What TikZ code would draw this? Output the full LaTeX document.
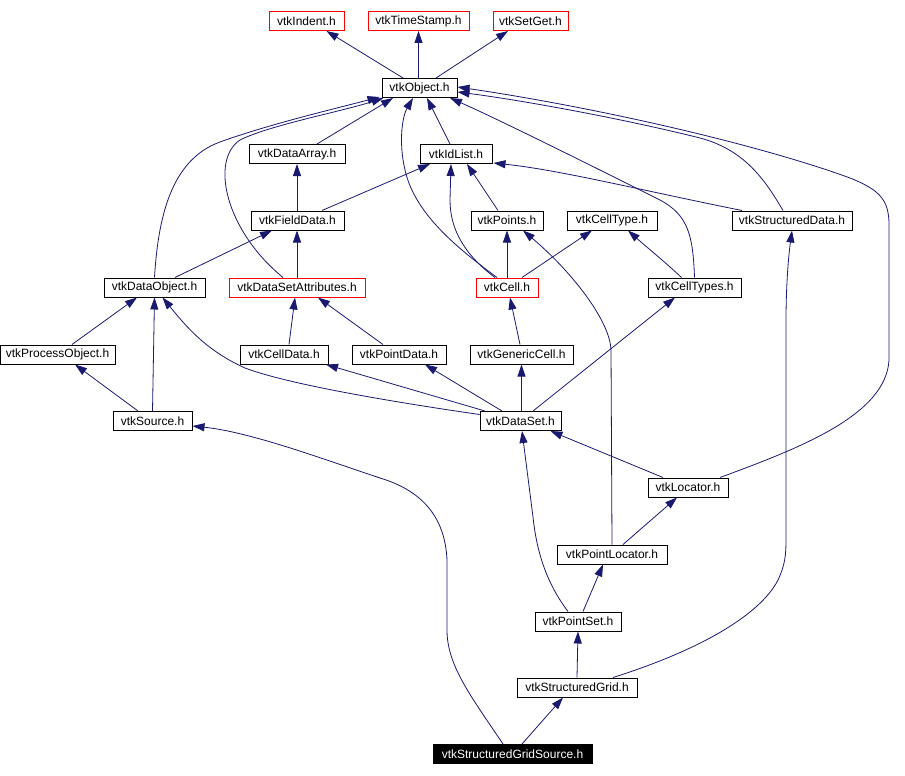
\documentclass[tikz,border=0pt]{standalone}
\usepackage{fontspec}
\setmainfont{Liberation Sans}
\usetikzlibrary{arrows.meta}
\definecolor{edgec}{RGB}{25,25,112}
\begin{document}
\begin{tikzpicture}[x=1pt,y=-1pt,
  box/.style={draw=black,line width=1pt,rectangle,inner sep=0pt,minimum height=19pt,fill=white,
    font=\fontsize{12}{13}\selectfont},
  redbox/.style={box,draw=red},
  hibox/.style={box,fill=black,text=white},
  edge/.style={draw=edgec,line width=0.8pt,-{Triangle[length=12pt,width=8pt]}}]
\useasboundingbox (0,0) rectangle (905,776);
% nodes
\node[redbox,minimum width=75pt]  (indent)    at (306.5,21) {vtkIndent.h};
\node[redbox,minimum width=101pt] (timestamp) at (418.5,21) {vtkTimeStamp.h};
\node[redbox,minimum width=75pt]  (setget)    at (530.5,21) {vtkSetGet.h};
\node[box,minimum width=75pt]     (object)    at (419.5,88) {vtkObject.h};
\node[box,minimum width=96pt]     (dataarray) at (297,154) {vtkDataArray.h};
\node[box,minimum width=72pt]     (idlist)    at (456,154) {vtkIdList.h};
\node[box,minimum width=93pt]     (fielddata) at (297.5,220.5) {vtkFieldData.h};
\node[box,minimum width=72pt]     (points)    at (507,220.5) {vtkPoints.h};
\node[box,minimum width=90pt]     (celltype)  at (612,220.5) {vtkCellType.h};
\node[box,minimum width=120pt]    (structureddata) at (792,220.5) {vtkStructuredData.h};
\node[box,minimum width=101pt]    (dataobject) at (154.5,287.5) {vtkDataObject.h};
\node[redbox,minimum width=136pt] (dsattr)    at (297,287.5) {vtkDataSetAttributes.h};
\node[redbox,minimum width=62pt]  (cell)      at (507,287.5) {vtkCell.h};
\node[box,minimum width=93pt]     (celltypes) at (694.5,287.5) {vtkCellTypes.h};
\node[box,minimum width=115pt]    (processobject) at (57.5,354.5) {vtkProcessObject.h};
\node[box,minimum width=88pt]     (celldata)  at (284,354.5) {vtkCellData.h};
\node[box,minimum width=94pt]     (pointdata) at (399,354.5) {vtkPointData.h};
\node[box,minimum width=103pt]    (genericcell) at (521.5,354.5) {vtkGenericCell.h};
\node[box,minimum width=79pt]     (source)    at (152.5,421) {vtkSource.h};
\node[box,minimum width=81pt]     (dataset)   at (520.5,421) {vtkDataSet.h};
\node[box,minimum width=80pt]     (locator)   at (688,487.5) {vtkLocator.h};
\node[box,minimum width=110pt]    (pointlocator) at (612,554.5) {vtkPointLocator.h};
\node[box,minimum width=86pt]     (pointset)  at (578,621.5) {vtkPointSet.h};
\node[box,minimum width=120pt]    (sgrid)     at (577,687.5) {vtkStructuredGrid.h};
\node[hibox,minimum width=159pt]  (sgsource)  at (512.5,754) {vtkStructuredGridSource.h};
% edges
\draw[edge] ([xshift=-16.5pt]object.north) -- ([xshift=20pt]indent.south);
\draw[edge] ([xshift=-1pt]object.north) -- (timestamp.south);
\draw[edge] ([xshift=16.5pt]object.north) -- ([xshift=-22.5pt]setget.south);
\draw[edge] ([xshift=20pt]dataarray.north) -- ([xshift=-26.5pt]object.south);
\draw[edge] ([xshift=-6pt]idlist.north) -- ([xshift=7.5pt]object.south);
\draw[edge] (dataobject.north) .. controls (158,220) and (170,160) .. (220,142)
  .. controls (270,124) and (330,110) .. ([xshift=-2pt,yshift=1pt]object.south west);
\draw[edge] ([xshift=-14pt]dsattr.north) .. controls (225,230) and (210,160) .. (240,140)
  .. controls (270,125) and (340,112) .. ([xshift=2pt]object.south west);
\draw[edge] ([xshift=-10pt]cell.north) .. controls (460,250) and (415,215) .. (405,170)
  .. controls (398,140) and (403,115) .. ([xshift=-6.5pt]object.south);
\draw[edge] ([xshift=-12pt]cell.north) .. controls (465,255) and (450,230) .. (450,200)
  -- ([xshift=-5pt]idlist.south);
\draw[edge] (celltypes.north) .. controls (693,235) and (688,215) .. (660,200)
  .. controls (600,170) and (500,120) .. ([xshift=30.5pt]object.south);
\draw[edge] ([xshift=-9pt]structureddata.north) .. controls (765,180) and (745,150) .. (700,138)
  .. controls (620,118) and (520,100) .. ([yshift=-4pt]object.east);
\draw[edge] ([xshift=32pt]locator.north) .. controls (800,448) and (886,415) .. (889,360)
  -- (889,225) .. controls (889,200) and (880,190) .. (850,178)
  .. controls (760,145) and (600,108) .. ([yshift=1pt]object.east);
\draw[edge] ([xshift=-0.5pt]fielddata.north) -- (dataarray.south);
\draw[edge] ([xshift=24.5pt]fielddata.north) -- ([xshift=-26pt]idlist.south);
\draw[edge] ([xshift=-9pt]points.north) -- ([xshift=11pt]idlist.south);
\draw[edge] ([xshift=-50pt]structureddata.north) .. controls (640,190) and (560,170) .. ([xshift=1pt,yshift=1pt]idlist.south east);
\draw[edge] ([xshift=20.5pt]dataobject.north) -- ([xshift=-25.5pt]fielddata.south);
\draw[edge] (dsattr.north) -- ([xshift=-0.5pt]fielddata.south);
\draw[edge] (cell.north) -- (points.south);
\draw[edge] ([xshift=15pt]cell.north) -- ([xshift=-20pt]celltype.south);
\draw[edge] ([xshift=-13pt]celltypes.north) .. controls (665,262) and (650,250) .. ([xshift=16pt]celltype.south);
\draw[edge] (pointlocator.north) -- (611,350) .. controls (610,320) and (570,270) .. ([xshift=16pt]points.south);
\draw[edge] ([xshift=36pt]sgrid.north) .. controls (700,650) and (760,615) .. (778,580)
  .. controls (785,565) and (786,555) .. (786,540) -- (786,320)
  .. controls (786,290) and (788,260) .. (structureddata.south);
\draw[edge] ([xshift=14.5pt]processobject.north) -- ([xshift=-17.5pt]dataobject.south);
\draw[edge] (source.north) -- (dataobject.south);
\draw[edge] ([yshift=-3.5pt]dataset.north west) .. controls (400,403) and (290,385) .. (245,368)
  .. controls (205,350) and (185,325) .. ([xshift=8pt]dataobject.south);
\draw[edge] ([xshift=5pt]celldata.north) -- ([xshift=-2pt]dsattr.south);
\draw[edge] ([xshift=-16pt]pointdata.north) -- ([xshift=21pt]dsattr.south);
\draw[edge] ([xshift=-1.5pt]genericcell.north) -- ([xshift=3pt]cell.south);
\draw[edge] ([xshift=12.5pt]dataset.north) -- ([xshift=-19.5pt]celltypes.south);
\draw[edge] ([xshift=-14.5pt]source.north) -- ([xshift=17.5pt]processobject.south);
\draw[edge] ([xshift=-35.5pt]dataset.north) -- ([xshift=42pt]celldata.south);
\draw[edge] ([xshift=-18.5pt]dataset.north) -- ([xshift=26pt]pointdata.south);
\draw[edge] ([xshift=1pt]dataset.north) -- (genericcell.south);
\draw[edge] ([xshift=-9.5pt]sgsource.north) .. controls (470,695) and (447,665) .. (447,630)
  -- (447,560) .. controls (445,515) and (420,490) .. (380,478)
  .. controls (320,458) and (250,432) .. ([yshift=-5pt]source.east);
\draw[edge] ([xshift=-25pt]locator.north) -- ([xshift=30pt]dataset.south);
\draw[edge] ([xshift=-10pt]pointset.north) .. controls (548,585) and (537,555) .. (533,517)
  -- ([xshift=1.5pt]dataset.south);
\draw[edge] ([xshift=11pt]pointlocator.north) -- ([xshift=-11pt]locator.south);
\draw[edge] ([xshift=5pt]pointset.north) -- ([xshift=-9pt]pointlocator.south);
\draw[edge] (sgrid.north) -- (pointset.south);
\draw[edge] ([xshift=9.5pt]sgsource.north) -- ([xshift=-14pt]sgrid.south);
\end{tikzpicture}
\end{document}
